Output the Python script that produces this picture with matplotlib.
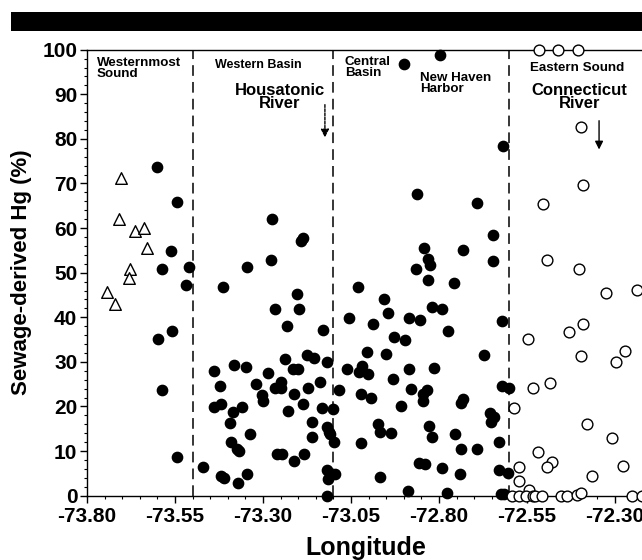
import numpy as np
import matplotlib
matplotlib.use("Agg")
import matplotlib.pyplot as plt
from matplotlib.ticker import MultipleLocator, FixedLocator
from matplotlib.patches import Rectangle

plt.rcParams['font.family'] = ['Liberation Sans', 'DejaVu Sans']
plt.rcParams['font.weight'] = 'bold'

# Westernmost Sound stations (open triangles)
tri_lon = [-73.704, -73.709, -73.664, -73.639, -73.630, -73.678, -73.681, -73.744, -73.720]
tri_hg = [71.2, 62.0, 59.4, 60.1, 55.5, 50.8, 48.7, 45.7, 42.9]

# Westernmost Sound + Western Basin + Central Basin (filled circles)
fill_lon = [
    -73.601, -73.544, -73.561, -73.586, -73.511, -73.520, -73.559, -73.597, -73.586, -73.543,
    -73.346, -73.414, -73.470, -73.438, -73.382, -73.348, -73.421, -73.440, -73.418, -73.386,
    -73.359, -73.395, -73.391, -73.375, -73.367, -73.337, -73.420, -73.412, -73.372, -73.345,
    -73.321, -73.273, -73.193, -73.185, -73.278, -73.203, -73.266, -73.197, -73.233, -73.128,
    -73.176, -73.154, -73.238, -73.119, -73.214, -73.200, -73.285, -73.250, -73.266, -73.249,
    -73.137, -73.173, -73.212, -73.304, -73.301, -73.185, -73.230, -73.133, -73.100, -73.162,
    -73.117, -73.112, -73.110, -73.162, -73.098, -73.261, -73.247, -73.183, -73.213, -73.119,
    -73.114, -73.095, -73.117,
    -73.055, -73.061, -73.084, -72.797, -72.899, -72.619, -72.862, -72.693, -72.646, -72.843,
    -72.733, -72.831, -72.826, -72.647, -72.865, -72.830, -72.756, -73.031, -72.955, -72.820,
    -72.791, -72.944, -72.987, -72.885, -72.854, -72.621, -72.775, -72.929, -72.897, -73.005,
    -72.951, -72.672, -73.020, -73.027, -73.001, -72.886, -72.813, -72.931, -73.022, -72.992,
    -72.878, -72.835, -72.845, -72.845, -72.908, -72.731, -72.738, -72.621, -72.602, -72.655,
    -72.644, -72.652, -72.974, -72.968, -72.937, -72.828, -72.821, -73.022, -72.755, -72.736,
    -72.691, -72.628, -72.856, -72.840, -72.792, -72.968, -72.740, -72.630, -72.604, -72.889,
    -72.778, -72.625, -72.615,
]
fill_hg = [
    73.7, 65.9, 54.9, 50.8, 51.3, 47.2, 36.9, 35.1, 23.6, 8.6,
    51.2, 46.9, 6.4, 28.0, 29.3, 28.9, 24.6, 19.8, 20.5, 18.8,
    19.9, 16.2, 12.1, 10.4, 10.1, 13.8, 4.5, 4.0, 2.8, 4.8,
    25.0, 62.0, 57.1, 57.8, 52.9, 45.2, 41.9, 41.9, 38.1, 37.2,
    31.5, 30.8, 30.6, 30.0, 28.4, 28.4, 27.4, 25.5, 24.2, 24.2,
    25.4, 24.1, 22.7, 22.6, 21.3, 20.6, 19.0, 19.7, 19.4, 16.5,
    15.3, 14.3, 13.8, 13.2, 12.1, 9.3, 9.3, 9.4, 7.8, 5.8,
    3.7, 4.8, 0.0,
    39.8, 28.4, 23.7, 98.8, 96.8, 78.3, 67.6, 65.6, 58.5, 55.5,
    55.1, 53.1, 51.7, 52.7, 50.8, 48.4, 47.8, 46.7, 44.0, 42.4,
    41.9, 41.0, 38.4, 39.8, 39.5, 39.2, 37.0, 35.6, 34.8, 32.2,
    31.8, 31.6, 29.1, 27.7, 27.2, 28.3, 28.7, 26.1, 22.9, 21.8,
    23.9, 23.7, 22.8, 21.3, 20.0, 21.7, 20.7, 24.7, 24.1, 18.6,
    17.7, 16.6, 16.0, 14.2, 14.0, 15.7, 13.1, 11.9, 13.9, 10.5,
    10.5, 12.1, 7.3, 7.0, 6.1, 4.3, 4.9, 5.8, 5.2, 1.1,
    0.7, 0.3, 0.3,
]

# Eastern Sound stations (open circles)
open_lon = [
    -72.516, -72.461, -72.404, -72.397, -72.390, -72.505, -72.494, -72.402, -72.324, -72.236,
    -72.390, -72.430, -72.546, -72.395, -72.272, -72.296, -72.483, -72.534, -72.586, -72.379,
    -72.309, -72.518, -72.480, -72.494, -72.278, -72.572, -72.366, -72.572, -72.544,
    -72.593, -72.573, -72.553, -72.534, -72.527, -72.508, -72.454, -72.437, -72.409, -72.395,
    -72.250, -72.223,
]
open_hg = [
    100, 100, 100, 82.7, 69.7, 65.4, 52.8, 50.8, 45.4, 46.1,
    38.4, 36.8, 35.1, 31.3, 32.5, 29.9, 25.3, 24.1, 19.7, 16.1,
    12.9, 9.8, 7.6, 6.5, 6.7, 6.5, 4.4, 3.3, 1.3,
    0, 0, 0, 0, 0, 0, 0, 0, 0.2, 0.5,
    0, 0,
]

# Region boundaries
limites = [-73.50, -73.10, -72.60]
xticks = [-73.80, -73.55, -73.30, -73.05, -72.80, -72.55, -72.30]

fig = plt.figure(figsize=(6.42, 5.6), dpi=100)

# Black bar at the top of the scanned page
fig.add_artist(Rectangle((11 / 642, 1 - 31 / 560), 1.0, 19 / 560,
                         transform=fig.transFigure, color='black', lw=0))

ax = fig.add_axes([87 / 642, 1 - 495.7 / 560, 1 - 87 / 642, 446 / 560])
ax.set_xlim(-73.80, -72.223)
ax.set_ylim(0, 100)

for x in limites:
    ax.axvline(x, color='black', lw=1.1, ls=(0, (7, 4)), zorder=1)

ax.scatter(tri_lon, tri_hg, marker='^', s=70, facecolors='white',
           edgecolors='black', linewidths=1.0, zorder=3, clip_on=False)
ax.scatter(fill_lon, fill_hg, marker='o', s=55, color='black', zorder=3, clip_on=False)
ax.scatter(open_lon, open_hg, marker='o', s=60, facecolors='white',
           edgecolors='black', linewidths=1.0, zorder=3, clip_on=False)

# Region labels
etiq = dict(fontsize=9.6, fontweight='bold', ha='left', va='top', linespacing=0.9)
ax.text(-73.772, 98.3, 'Westernmost\nSound', **etiq)
ax.text(-73.436, 98.0, 'Western Basin', **dict(etiq, fontsize=9.0))
ax.text(-73.067, 98.6, 'Central\nBasin', **etiq)
ax.text(-72.854, 95.0, 'New Haven\nHarbor', **etiq)
ax.text(-72.541, 97.2, 'Eastern Sound', **etiq)
ax.text(-73.252, 92.6, 'Housatonic\nRiver', fontsize=12, fontweight='bold',
        ha='center', va='top', linespacing=0.88)
ax.text(-72.401, 92.6, 'Connecticut\nRiver', fontsize=12, fontweight='bold',
        ha='center', va='top', linespacing=0.88)

# River arrows
ax.annotate('', xy=(-73.124, 79.7), xytext=(-73.124, 88.3),
            arrowprops=dict(arrowstyle='-|>', color='black', lw=1.0,
                            ls=(0, (2, 1)), mutation_scale=12))
ax.annotate('', xy=(-72.345, 77.0), xytext=(-72.345, 84.7),
            arrowprops=dict(arrowstyle='-|>', color='black', lw=1.0,
                            mutation_scale=12))

# Axes, ticks and labels
ax.spines['right'].set_visible(False)
for s in ['left', 'bottom', 'top']:
    ax.spines[s].set_linewidth(1.0)
ax.xaxis.set_major_locator(FixedLocator(xticks))
ax.xaxis.set_minor_locator(MultipleLocator(0.05))
ax.yaxis.set_major_locator(MultipleLocator(10))
ax.yaxis.set_minor_locator(MultipleLocator(2))
ax.set_xticklabels(['%.2f' % t for t in xticks])
ax.tick_params(which='major', direction='out', length=5, width=1.0,
               labelsize=15, pad=3)
ax.tick_params(which='minor', direction='out', length=2.5, width=0.8)
ax.tick_params(axis='y', pad=2)
ax.tick_params(top=False, right=False, which='both')
for lab in ax.get_xticklabels() + ax.get_yticklabels():
    lab.set_fontweight('bold')

fig.text(366 / 642, 1 - 548 / 560, 'Longitude', fontsize=18, fontweight='bold',
         ha='center', va='center')
fig.text(22 / 642, 1 - 272 / 560, 'Sewage-derived Hg (%)', fontsize=16,
         fontweight='bold', ha='center', va='center', rotation=90)

fig.savefig('out.png', dpi=100)
